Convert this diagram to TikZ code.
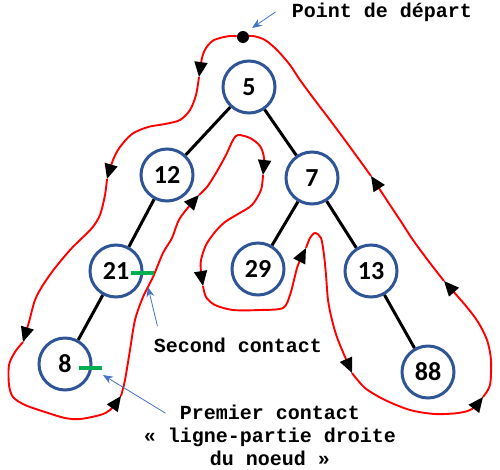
\documentclass[tikz,border=0pt]{standalone}
\usepackage{fontspec}
\usetikzlibrary{arrows.meta,calc}
\newfontfamily\numfont{Carlito}
\newfontfamily\monofont{Liberation Mono}
\definecolor{bleu}{HTML}{2F5597}
\definecolor{fleche}{HTML}{4472C4}
\definecolor{vert}{HTML}{00B050}
\tikzset{
	noeud/.style={circle, draw=bleu, line width=3pt, minimum size=52pt, inner sep=0pt,
		font=\numfont\bfseries\fontsize{26}{26}\selectfont},
	branche/.style={black, line width=3pt},
	tour/.style={red, line width=1.9pt},
	tourfl/.style={tour, -{Triangle[color=black,length=15pt,width=13pt]}},
	legende/.style={font=\monofont\bfseries\fontsize{20}{23}\selectfont, align=center},
	rappel/.style={fleche, line width=0.8pt, -{Stealth[length=10pt,width=8pt]}},
	contact/.style={vert, line width=4pt}
}
\begin{document}
\begin{tikzpicture}[x=1pt,y=-1pt]
		\useasboundingbox (0,0) rectangle (500,469);
		
		%les noeuds
		\node[noeud] (n5) at (249,87){5};
		\node[noeud] (n12) at (167,175){12};
		\node[noeud] (n7) at (312,178){7};
		\node[noeud] (n21) at (116,271){21};
		\node[noeud] (n29) at (258,269){29};
		\node[noeud] (n13) at (371,271){13};
		\node[noeud] (n8) at (65,364){8};
		\node[noeud] (n88) at (428,372){88};
		
		\foreach \a/\b in {n5/n12, n5/n7, n12/n21, n21/n8, n7/n29, n7/n13, n13/n88}{
			\draw[branche] (\a) -- (\b);
		}
		
		%le contour
		\draw[tourfl] plot[smooth] coordinates {(243,37) (230,36) (214,40) (206,48) (202,58) (199,77)};
		\draw[tourfl] plot[smooth] coordinates {(199,77) (196,95) (190,110) (180,120) (165,124) (148,127) (132,134) (120,147) (113,160) (107,179)};
		\draw[tourfl] plot[smooth] coordinates {(107,179) (105,195) (100,215) (92,228) (80,240) (70,250) (55,268) (43,285) (35,300) (29,322) (23,342)};
		\draw[tourfl] plot[smooth] coordinates {(23,342) (15,352) (9,365) (9,385) (13,397) (25,405) (45,412) (65,418) (80,419) (100,415) (110,410) (121,396)};
		\draw[tourfl] plot[smooth] coordinates {(121,396) (125,380) (130,350) (135,320) (143,297) (153,277) (163,253) (172,238) (180,218) (199,195)};
		\draw[tourfl] plot[smooth] coordinates {(199,195) (207,187) (216,173) (226,155) (233,140) (238,135) (250,138) (260,146) (264,158) (263,175)};
		\draw[tourfl] plot[smooth] coordinates {(263,175) (261,190) (252,205) (238,214) (225,222) (215,232) (206,245) (201,260) (201,272) (203,286)};
		\draw[tourfl] plot[smooth] coordinates {(203,286) (206,297) (215,305) (233,310) (260,310) (283,308) (290,295) (294,280) (298,265) (306,248)};
		\draw[tourfl] plot[smooth] coordinates {(306,248) (310,238) (315,233) (321,238) (324,255) (326,275) (328,300) (332,320) (338,340) (352,373)};
		\draw[tourfl] plot[smooth] coordinates {(352,373) (365,388) (385,400) (410,410) (435,414) (458,413) (472,409) (483,397)};
		\draw[tourfl] plot[smooth] coordinates {(483,397) (490,385) (491,360) (487,340) (478,322) (466,306) (444,281)};
		\draw[tourfl] plot[smooth] coordinates {(444,281) (430,263) (413,240) (400,220) (390,205) (371,176)};
		\draw[tour] plot[smooth] coordinates {(371,176) (350,147) (330,120) (317,103) (300,80) (290,65) (277,50) (265,40) (253,36) (243,37)};
		\node[circle, fill=black, inner sep=0pt, minimum size=12pt] (depart) at (243,37){};
		
		%les contacts
		\draw[contact] ($(n21)+(15,2)$) -- ($(n21)+(38,2)$);
		\draw[contact] ($(n8)+(14,4)$) -- ($(n8)+(37,4)$);
		
		%les legendes
		\node[legende] (ldepart) at (382,12){Point de départ};
		\node[legende] (lsecond) at (238,345){Second contact};
		\node[legende] (lpremier) at (270,435){Premier contact\\« ligne-partie droite\\du noeud »};
		\coordinate (c2) at (148,287);
		\coordinate (c1) at (103,375);
		\draw[rappel] ($(ldepart.west)+(-13,0)$) -- ($(depart)+(9,-9)$);
		\draw[rappel] ($(lsecond.north west)+(7,-8)$) -- (c2);
		\draw[rappel] ($(lpremier.north west)+(25,12)$) -- (c1);
		\end{tikzpicture}
\end{document}
